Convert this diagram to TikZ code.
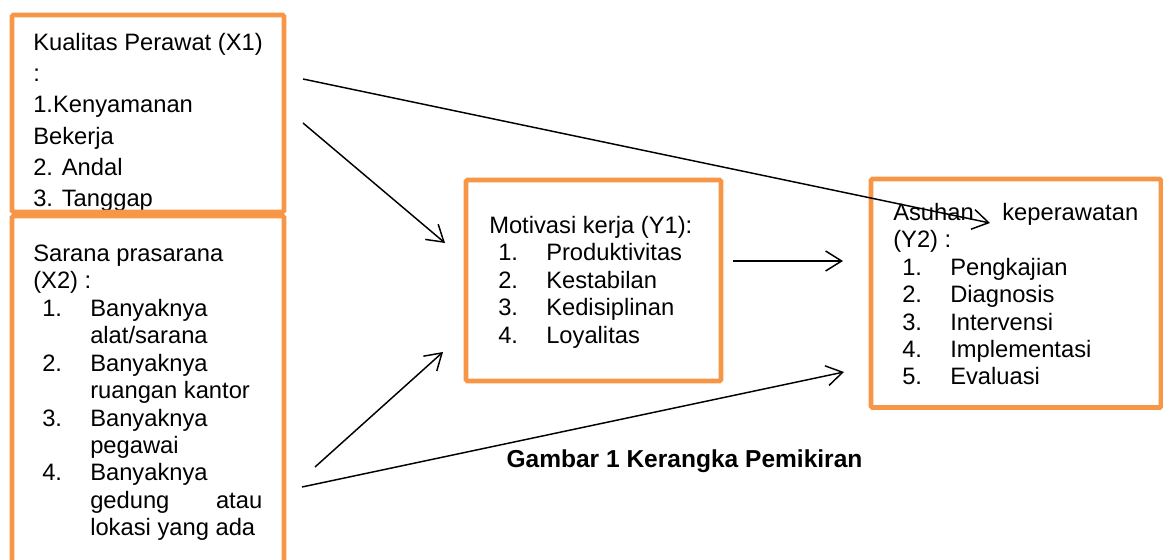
\documentclass[tikz,border=0pt]{standalone}
\usepackage{fontspec}
\setmainfont{Liberation Sans}
\usetikzlibrary{arrows.meta,positioning}
\definecolor{oranye}{HTML}{F79646}
\newcommand{\butir}[2]{\hspace*{6.75pt}\makebox[36pt][l]{#1}#2}
\newcommand{\lanjut}[1]{\hspace*{42.75pt}#1}

\begin{document}
\begin{tikzpicture}[x=0.75pt,y=-0.75pt,
  kotak/.style={draw=oranye,line width=3.5pt,rounded corners=1pt,inner sep=0pt},
  isi/.style={inner sep=0pt,anchor=north west,align=left,font=\fontsize{17.8}{20.6}\selectfont},
  panah/.style={line width=1.1pt,-{Straight Barb[length=12pt,width=15pt,line width=1.1pt]}}]
\clip (0,0) rectangle (1163,560);
% teks di dalam kotak
\node [isi,font=\fontsize{17.8}{23.5}\selectfont] (x1t) at (33,32.7) {Kualitas Perawat (X1)\\
:\\
1.Kenyamanan\\
Bekerja\\
2. Andal\\
3. Tanggap};
\node [isi] (x2t) at (33,244.4) {Sarana prasarana\\
(X2) :\\
\butir{1.}{Banyaknya}\\
\lanjut{alat/sarana}\\
\butir{2.}{Banyaknya}\\
\lanjut{ruangan kantor}\\
\butir{3.}{Banyaknya}\\
\lanjut{pegawai}\\
\butir{4.}{Banyaknya}\\
\lanjut{\makebox[129pt][s]{gedung atau}}\\
\lanjut{lokasi yang ada}};
\node [isi] (y1t) at (489,216) {Motivasi kerja (Y1):\\
\butir{1.}{Produktivitas}\\
\butir{2.}{Kestabilan}\\
\butir{3.}{Kedisiplinan}\\
\butir{4.}{Loyalitas}};
\node [isi] (y2t) at (893,202.7) {\makebox[183.75pt][s]{Asuhan keperawatan}\\
(Y2) :\\
\butir{1.}{Pengkajian}\\
\butir{2.}{Diagnosis}\\
\butir{3.}{Intervensi}\\
\butir{4.}{Implementasi}\\
\butir{5.}{Evaluasi}};
% kotak
\node [kotak,minimum width=204pt,minimum height=147.75pt] (x1) at (148,113.5) {};
\node [kotak,minimum width=204pt,minimum height=288pt] (x2) at (148,408) {};
\node [kotak,minimum width=191.25pt,minimum height=150.75pt] (y1) at (593.5,280.5) {};
\node [kotak,minimum width=217.5pt,minimum height=171.4pt] (y2) at (1016,293.25) {};
\node [inner sep=0pt,anchor=base,font=\fontsize{18.4}{22}\selectfont\bfseries] (judul) at (684.5,467) {Gambar 1 Kerangka Pemikiran};
% panah
\coordinate (a1s) at (303,79);
\coordinate (a1e) at (990,223);
\coordinate (a2s) at (303,123);
\coordinate (a2e) at (445,243);
\coordinate (a3s) at (733,261);
\coordinate (a3e) at (843,261);
\coordinate (a4s) at (315,467);
\coordinate (a4e) at (443,352);
\coordinate (a5s) at (302,487);
\coordinate (a5e) at (844,372);
\draw [panah] (a1s) -- (a1e);
\draw [panah] (a2s) -- (a2e);
\draw [panah] (a3s) -- (a3e);
\draw [panah] (a4s) -- (a4e);
\draw [panah] (a5s) -- (a5e);
\end{tikzpicture}
\end{document}
